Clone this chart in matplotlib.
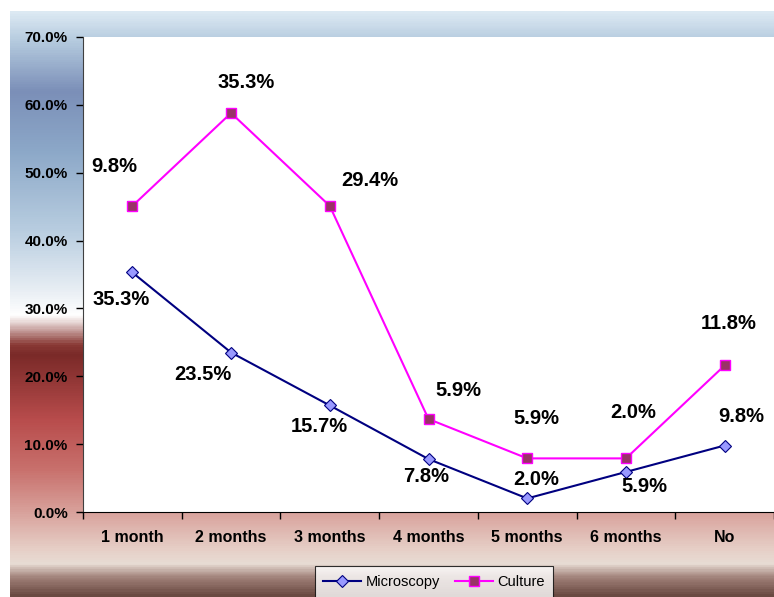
import numpy as np
import matplotlib.pyplot as plt
from matplotlib.colors import LinearSegmentedColormap
from matplotlib.ticker import FuncFormatter, FixedLocator

plt.rcParams['font.family'] = ['Liberation Sans', 'DejaVu Sans']

categories = ['1 month', '2 months', '3 months', '4 months', '5 months', '6 months', 'No']
microscopy = [35.3, 23.5, 15.7, 7.8, 2.0, 5.9, 9.8]
culture = [9.8, 35.3, 29.4, 5.9, 5.9, 2.0, 11.8]

# stacked line: culture drawn on top of microscopy
culture_stacked = [m + c for m, c in zip(microscopy, culture)]

# label offsets in pixels (manual placement as in the original)
micro_off = [(-11, -27), (-28, -22), (-10, -21), (-2, -17), (9, 19), (18, -15), (17, 29)]
cult_off = [(-18, 39), (15, 30), (40, 25), (30, 29), (9, 40), (7, 46), (4, 42)]

W, H = 774, 597
fig = plt.figure(figsize=(W / 100, H / 100), dpi=100)
fig.patch.set_facecolor('white')

# gradient background
stops = [
    (0.0, '#dce9f3'), (0.05, '#b4cade'), (0.135, '#7b8fb8'), (0.237, '#8ca8c8'),
    (0.374, '#b8cde0'), (0.476, '#e8eef4'), (0.519, '#ffffff'), (0.531, '#e8d8d6'),
    (0.57, '#8a3a36'), (0.587, '#7a2a28'), (0.698, '#b84c4c'), (0.783, '#c8706c'),
    (0.855, '#d8a09a'), (0.92, '#e6cec6'), (0.945, '#e8dcd4'), (0.97, '#a08078'),
    (1.0, '#6a4a42'),
]
cmap = LinearSegmentedColormap.from_list('bg', stops)
bg = fig.add_axes([10 / W, 0, 1 - 10 / W, (H - 11) / H])
bg.imshow(np.linspace(0, 1, 600).reshape(-1, 1), aspect='auto', cmap=cmap,
          extent=[0, 1, 1, 0])
bg.axis('off')

ax = fig.add_axes([83 / W, (H - 512) / H, (W - 83) / W, (512 - 37) / H])
ax.set_facecolor('white')
x = np.arange(len(categories))

ax.plot(x, microscopy, color='#000080', lw=1.5, marker='D', ms=6,
        mfc='#9999ff', mec='#000080', mew=0.8, label='Microscopy', zorder=3)
ax.plot(x, culture_stacked, color='#ff00ff', lw=1.5, marker='s', ms=7,
        mfc='#993366', mec='#ff00ff', mew=1.0, label='Culture', zorder=3)

for i in range(len(x)):
    ax.annotate(f'{microscopy[i]:.1f}%', (x[i], microscopy[i]), xytext=micro_off[i],
                textcoords='offset pixels', ha='center', va='center',
                fontsize=14.5, fontweight='bold')
    ax.annotate(f'{culture[i]:.1f}%', (x[i], culture_stacked[i]), xytext=cult_off[i],
                textcoords='offset pixels', ha='center', va='center',
                fontsize=14.5, fontweight='bold')

ax.set_xlim(-0.5, 6.5)
ax.set_ylim(0, 70)
ax.set_yticks(np.arange(0, 71, 10))
ax.yaxis.set_major_formatter(FuncFormatter(lambda v, p: f'{v:.1f}%'))
ax.tick_params(axis='y', direction='out', length=5, width=1, labelsize=11, pad=6)
for t in ax.get_yticklabels():
    t.set_fontweight('bold')

ax.set_xticks(x)
ax.set_xticklabels(categories, fontsize=11.5, fontweight='bold')
ax.tick_params(axis='x', which='major', length=0, pad=13)
ax.xaxis.set_minor_locator(FixedLocator(np.arange(-0.5, 6.6, 1)))
ax.tick_params(axis='x', which='minor', direction='out', length=5, width=1)

ax.spines['top'].set_visible(False)
ax.spines['right'].set_visible(False)
ax.spines['left'].set_color('#404040')
ax.spines['bottom'].set_color('black')

leg = fig.legend(loc='lower center', bbox_to_anchor=(434 / W, -8 / H), ncol=2,
                 frameon=True, fancybox=False, fontsize=10.5, handlelength=2.6,
                 columnspacing=1.0, borderpad=0.6, handletextpad=0.3)
leg.get_frame().set_edgecolor('black')
leg.get_frame().set_linewidth(0.8)
leg.get_frame().set_facecolor('white')

fig.savefig('out.png', dpi=100)
